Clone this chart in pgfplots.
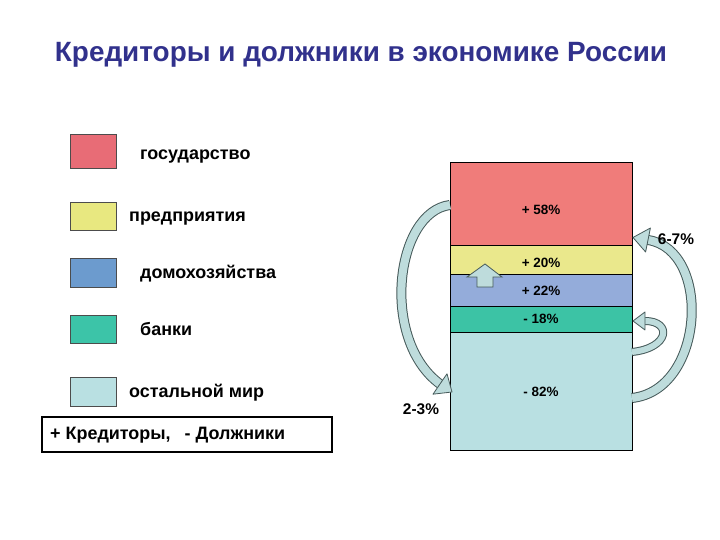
\documentclass[border=0pt]{standalone}
\usepackage{pgfplots}
\pgfplotsset{compat=1.18}
\usepackage{fontspec}
\setmainfont{Liberation Sans}
\definecolor{titleblue}{RGB}{49,49,140}
\definecolor{cRed}{RGB}{240,124,122}
\definecolor{cYel}{RGB}{234,232,140}
\definecolor{cBlue}{RGB}{148,172,218}
\definecolor{cTeal}{RGB}{60,195,165}
\definecolor{cLight}{RGB}{185,224,226}
\definecolor{lRed}{RGB}{232,108,118}
\definecolor{lYel}{RGB}{232,232,128}
\definecolor{lBlue}{RGB}{108,155,206}
\definecolor{lTeal}{RGB}{60,196,168}
\definecolor{lLight}{RGB}{185,224,226}
\definecolor{afill}{RGB}{190,220,220}
\definecolor{aedge}{RGB}{70,90,90}
\begin{document}
\begin{tikzpicture}[x=1bp,y=1bp]
\path[use as bounding box] (0,0) rectangle (720,540);
\begin{axis}[at={(450bp,90bp)}, anchor=south west, scale only axis,
  width=182bp, height=288bp, xmin=-0.5, xmax=0.5, ymin=0, ymax=200,
  hide axis, ybar stacked, bar width=182bp, clip=false]
\addplot[fill=cLight, draw=black, line width=0.8pt] coordinates {(0,82)};
\addplot[fill=cTeal, draw=black, line width=0.8pt] coordinates {(0,18)};
\addplot[fill=cBlue, draw=black, line width=0.8pt] coordinates {(0,22)};
\addplot[fill=cYel, draw=black, line width=0.8pt] coordinates {(0,20)};
\addplot[fill=cRed, draw=black, line width=0.8pt] coordinates {(0,58)};
\draw[black, line width=1.6pt] (axis cs:-0.5,100) -- (axis cs:0.5,100);
\end{axis}
\begin{scope}[yshift=540bp, yscale=-1]
% title
\node[font=\bfseries\fontsize{28}{32}\selectfont, text=titleblue] at (361,55) {Кредиторы и должники в экономике России};
% legend squares
\draw[draw=black!70, fill=lRed] (70,134) rectangle (116,168);
\draw[draw=black!70, fill=lYel] (70,202) rectangle (116,230);
\draw[draw=black!70, fill=lBlue] (70,258) rectangle (116,287);
\draw[draw=black!70, fill=lTeal] (70,315) rectangle (116,343);
\draw[draw=black!70, fill=lLight] (70,377) rectangle (116,406);
\begin{scope}[every node/.style={font=\bfseries\fontsize{18}{20}\selectfont, anchor=base west, inner sep=0pt}]
\node at (140,160) {государство};
\node at (129,222) {предприятия};
\node at (140,279) {домохозяйства};
\node at (140,336) {банки};
\node at (129,398) {остальной мир};
\node at (50,440) {+ Кредиторы,\hspace{14bp}- Должники};
\end{scope}
\draw[black, line width=1.6pt] (42,417) rectangle (332,452);
% segment labels
\begin{scope}[every node/.style={font=\bfseries\fontsize{13.5}{15}\selectfont}]
\node at (541,210) {+ 58\%};
\node at (541,263) {+ 20\%};
\node at (541,291) {+ 22\%};
\node at (541,319) {- 18\%};
\node at (541,392) {- 82\%};
\end{scope}
% curved arrows
\def\lpath{(450,205) .. controls (395,212) and (380,340) .. (440,384)}
\draw[aedge, line width=10bp] \lpath;
\draw[afill, line width=8bp] \lpath;
\draw[aedge, fill=afill, line width=0.8bp, line join=round] (433,394.2) -- (452,392) -- (447,373.8) -- cycle;
\def\rpath{(632,398) .. controls (705,390) and (712,250) .. (648,240)}
\draw[aedge, line width=10bp] \rpath;
\draw[afill, line width=8bp] \rpath;
\draw[aedge, fill=afill, line width=0.8bp, line join=round] (650.4,228) -- (633,237.5) -- (645.6,252) -- cycle;
\def\spath{(632,352) .. controls (670,348) and (672,321) .. (645,321)}
\draw[aedge, line width=8bp] \spath;
\draw[afill, line width=6bp] \spath;
\draw[aedge, fill=afill, line width=0.8bp, line join=round] (645,312) -- (633,321) -- (645,330) -- cycle;
% up arrow inside bar
\draw[aedge, fill=afill, line width=0.8bp] (477,287) -- (477,277) -- (467,277) -- (485,264) -- (502,277) -- (493,277) -- (493,287) -- cycle;
\begin{scope}[every node/.style={font=\bfseries\fontsize{15.5}{17}\selectfont}]
\node at (421,409) {2-3\%};
\node at (676,239) {6-7\%};
\end{scope}
\end{scope}
\end{tikzpicture}
\end{document}
